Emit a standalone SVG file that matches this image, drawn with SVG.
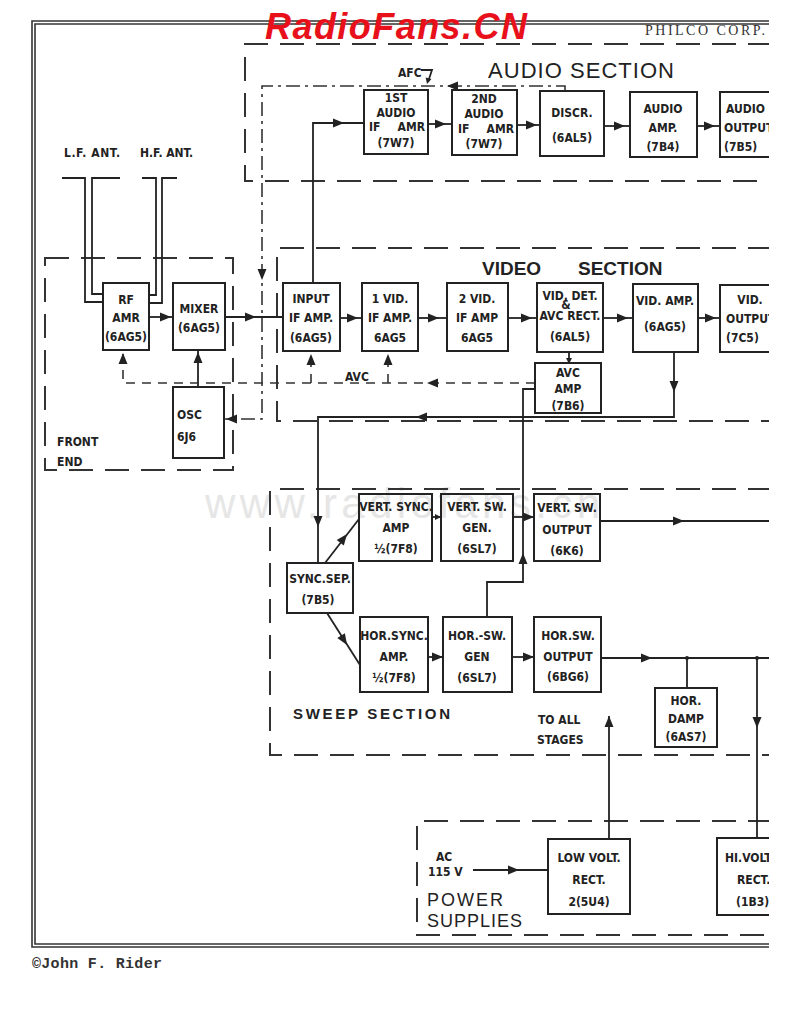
<svg xmlns="http://www.w3.org/2000/svg" xmlns:xlink="http://www.w3.org/1999/xlink" width="800" height="1036" viewBox="0 0 800 1036">
<style>
.box{fill:none;stroke:#222;stroke-width:2}
.ln{fill:none;stroke:#222;stroke-width:1.8}
.sec{fill:none;stroke:#333;stroke-width:2;stroke-dasharray:24 12}
.avc{fill:none;stroke:#333;stroke-width:1.6;stroke-dasharray:9 7}
.dd{fill:none;stroke:#333;stroke-width:1.6;stroke-dasharray:14 5 3 5}
.frame{fill:none;stroke:#333;stroke-width:1.6}
.t{font-family:"DejaVu Sans Condensed","Liberation Sans Narrow","Liberation Sans",sans-serif;font-weight:bold;font-size:12px;fill:#222;text-anchor:middle}
.st{text-anchor:start}
.en{text-anchor:end}
.h{font-family:"Liberation Sans","DejaVu Sans",sans-serif;fill:#222}
</style>
<defs>
<path id="ah" d="M0,0 L-11,-4.5 L-11,4.5 Z" fill="#222"/>
<path id="sah" d="M0,0 L-6,-3 L-6,3 Z" fill="#222"/>
<clipPath id="cl"><rect x="0" y="0" width="769" height="1036"/></clipPath>
</defs>
<rect x="0" y="0" width="800" height="1036" fill="#fff"/>
<text x="205" y="518" font-family="Liberation Sans, sans-serif" font-size="42" fill="#e6e6e6" textLength="395">www.radiofans.cn</text>

<g clip-path="url(#cl)">
<!-- frame -->
<g id="frame">
<path class="frame" d="M772,21 H32 V947 H772"/>
<path class="frame" d="M772,24 H35 V944 H772"/>
</g>

<!-- section boxes -->
<g id="sections">
<path class="sec" d="M772,44 H245 V181 H772"/>
<path class="sec" d="M772,248 H277 V421 H772"/>
<rect class="sec" x="45" y="258" width="188" height="212"/>
<path class="sec" d="M772,489 H270 V755 H772"/>
<path class="sec" d="M772,821 H417 V935 H772"/>
</g>

<!-- connectors -->
<g id="connectors">
<path class="ln" d="M62,178 H85 V302 H103 M120,178 H92 V294 H103"/>
<path class="ln" d="M142,178 H156 V295 H149 M177,178 H162 V303 H149"/>
<path class="ln" d="M149,317 H173"/><use xlink:href="#ah" transform="translate(171,317)"/>
<path class="ln" d="M225,317 H283"/><use xlink:href="#ah" transform="translate(256,317)"/>
<path class="ln" d="M198,387 V350"/><use xlink:href="#ah" transform="translate(198,352) rotate(270)"/>
<path class="avc" d="M535,383 H123 V351 M311,383 V352 M388,383 V352"/>
<use xlink:href="#ah" transform="translate(123,353) rotate(270)"/>
<use xlink:href="#ah" transform="translate(311,354) rotate(270)"/>
<use xlink:href="#ah" transform="translate(388,354) rotate(270)"/>
<use xlink:href="#ah" transform="translate(427,383) rotate(180)"/>
<path class="dd" d="M565,91 V86 H262 V419 H225"/>
<use xlink:href="#ah" transform="translate(447,86) rotate(180)"/>
<use xlink:href="#ah" transform="translate(262,280) rotate(90)"/>
<use xlink:href="#ah" transform="translate(226,419) rotate(180)"/>
<path class="ln" d="M421,70 H432 L428,82" stroke-width="1.4"/>
<use xlink:href="#sah" transform="translate(427,84) rotate(105)"/>
<path class="ln" d="M313,283 V123 H364"/><use xlink:href="#ah" transform="translate(344,123)"/>
<path class="ln" d="M428,124 H452"/><use xlink:href="#ah" transform="translate(446,124)"/>
<path class="ln" d="M517,125 H540"/><use xlink:href="#ah" transform="translate(537,125)"/>
<path class="ln" d="M604,126 H630"/><use xlink:href="#ah" transform="translate(625,126)"/>
<path class="ln" d="M697,126 H720"/><use xlink:href="#ah" transform="translate(715,126)"/>
<path class="ln" d="M340,318 H362"/><use xlink:href="#ah" transform="translate(358,318)"/>
<path class="ln" d="M418,318 H447"/><use xlink:href="#ah" transform="translate(439,318)"/>
<path class="ln" d="M508,318 H537"/><use xlink:href="#ah" transform="translate(532,318)"/>
<path class="ln" d="M603,318 H633"/><use xlink:href="#ah" transform="translate(628,318)"/>
<path class="ln" d="M698,318 H720"/><use xlink:href="#ah" transform="translate(716,318)"/>
<path class="ln" d="M569,352 V363" stroke-width="1.4"/><use xlink:href="#sah" transform="translate(569,364) rotate(90)"/>
<path class="ln" d="M674,352 V417 H318 V563"/>
<use xlink:href="#ah" transform="translate(674,392) rotate(90)"/>
<use xlink:href="#ah" transform="translate(416,417) rotate(180)"/>
<use xlink:href="#ah" transform="translate(318,527) rotate(90)"/>
<path class="ln" d="M487,617 V582 H523 V389 H535"/>
<use xlink:href="#ah" transform="translate(523,553) rotate(270)"/>
<path class="ln" d="M325,563 L359,519"/><use xlink:href="#ah" transform="translate(347,534) rotate(-52.3)"/>
<path class="ln" d="M327,613 L360,665"/><use xlink:href="#ah" transform="translate(347,645) rotate(57.6)"/>
<path class="ln" d="M432,517 H441"/><use xlink:href="#sah" transform="translate(441,517)"/>
<path class="ln" d="M513,517 H534"/><use xlink:href="#ah" transform="translate(534,517)"/>
<path class="ln" d="M600,521 H772"/><use xlink:href="#ah" transform="translate(684,521)"/>
<path class="ln" d="M428,657 H443"/><use xlink:href="#ah" transform="translate(443,657)"/>
<path class="ln" d="M512,657 H534"/><use xlink:href="#ah" transform="translate(534,657)"/>
<path class="ln" d="M601,658 H772"/><use xlink:href="#ah" transform="translate(652,658)"/>
<circle cx="687" cy="658" r="2" fill="#222"/><circle cx="757" cy="658" r="2" fill="#222"/>
<path class="ln" d="M687,658 V688"/>
<path class="ln" d="M757,658 V838"/><use xlink:href="#ah" transform="translate(757,728) rotate(90)"/>
<path class="ln" d="M609,839 V716"/><use xlink:href="#ah" transform="translate(609,716) rotate(270)"/>
<path class="ln" d="M473,870 H548"/><use xlink:href="#ah" transform="translate(519,870)"/>
</g>

<!-- front end -->
<g id="rf-amp"><rect class="box" x="103" y="283" width="46" height="67"/>
<text class="t" font-size="14" x="126" y="304">RF</text><text class="t" font-size="13" x="126" y="322">AMR</text><text class="t" x="126" y="341">(6AG5)</text></g>
<g id="mixer"><rect class="box" x="173" y="283" width="52" height="67"/>
<text class="t" x="199" y="313">MIXER</text><text class="t" x="199" y="332">(6AG5)</text></g>
<g id="osc"><rect class="box" x="173" y="387" width="51" height="71"/>
<text class="t st" font-size="15" x="177" y="419">OSC</text><text class="t st" font-size="15" x="177" y="441">6J6</text></g>

<!-- audio -->
<g id="audio-if1"><rect class="box" x="364" y="90" width="64" height="64"/>
<text class="t" font-size="8" x="396" y="102">1ST</text><text class="t" font-size="10" x="396" y="117">AUDIO</text>
<text class="t st" font-size="9" x="369" y="131">IF</text><text class="t en" font-size="9" x="425" y="131">AMR</text>
<text class="t" font-size="11" x="396" y="147">(7W7)</text></g>
<g id="audio-if2"><rect class="box" x="452" y="90" width="65" height="65"/>
<text class="t" font-size="8" x="484" y="103">2ND</text><text class="t" font-size="10" x="484" y="118">AUDIO</text>
<text class="t st" font-size="9" x="458" y="133">IF</text><text class="t en" font-size="9" x="514" y="133">AMR</text>
<text class="t" font-size="11" x="484" y="148">(7W7)</text></g>
<g id="discr"><rect class="box" x="540" y="91" width="64" height="65"/>
<text class="t" font-size="14" x="572" y="117">DISCR.</text><text class="t" font-size="15" x="572" y="142">(6AL5)</text></g>
<g id="audio-amp"><rect class="box" x="630" y="92" width="67" height="65"/>
<text class="t" font-size="14" x="663" y="113">AUDIO</text><text class="t" font-size="14" x="663" y="132">AMP.</text><text class="t" font-size="15" x="663" y="151">(7B4)</text></g>
<g id="audio-output"><rect class="box" x="720" y="92" width="70" height="65"/>
<text class="t st" font-size="14" x="726" y="113">AUDIO</text><text class="t st" font-size="14" x="724" y="132">OUTPUT</text><text class="t st" font-size="15" x="724" y="151">(7B5)</text></g>

<!-- video -->
<g id="input-if"><rect class="box" x="283" y="283" width="57" height="68"/>
<text class="t" font-size="13" x="311" y="303">INPUT</text><text class="t" font-size="13" x="311" y="322">IF AMP.</text><text class="t" font-size="13" x="311" y="342">(6AG5)</text></g>
<g id="vid-if1"><rect class="box" x="362" y="283" width="56" height="68"/>
<text class="t" font-size="14" x="390" y="303">1 VID.</text><text class="t" font-size="14" x="390" y="322">IF AMP.</text><text class="t" font-size="14" x="390" y="342">6AG5</text></g>
<g id="vid-if2"><rect class="box" x="447" y="283" width="61" height="68"/>
<text class="t" font-size="14" x="477" y="303">2 VID.</text><text class="t" font-size="14" x="477" y="322">IF AMP</text><text class="t" font-size="14" x="477" y="342">6AG5</text></g>
<g id="vid-det"><rect class="box" x="537" y="283" width="66" height="69"/>
<text class="t" font-size="11" x="570" y="300">VID. DET.</text><text class="t" font-size="8" x="566" y="309">&amp;</text>
<text class="t" font-size="11" x="570" y="320">AVC RECT.</text><text class="t" font-size="14" x="570" y="341">(6AL5)</text></g>
<g id="vid-amp"><rect class="box" x="633" y="284" width="65" height="68"/>
<text class="t" font-size="11" x="665" y="305">VID. AMP.</text><text class="t" font-size="15" x="665" y="331">(6AG5)</text></g>
<g id="vid-output"><rect class="box" x="720" y="285" width="70" height="67"/>
<text class="t" font-size="14" x="750" y="304">VID.</text><text class="t st" font-size="14" x="726" y="323">OUTPUT</text><text class="t st" font-size="14" x="726" y="342">(7C5)</text></g>
<g id="avc-amp"><rect class="box" x="535" y="363" width="66" height="50"/>
<text class="t" font-size="13" x="568" y="377">AVC</text><text class="t" font-size="13" x="568" y="393">AMP</text><text class="t" font-size="13" x="568" y="410">(7B6)</text></g>

<!-- sweep -->
<g id="sync-sep"><rect class="box" x="287" y="563" width="66" height="50"/>
<text class="t" font-size="12" x="320" y="583">SYNC.SEP.</text><text class="t" font-size="14" x="318" y="604">(7B5)</text></g>
<g id="vert-sync"><rect class="box" x="359" y="494" width="73" height="67"/>
<text class="t" font-size="11" x="396" y="511">VERT. SYNC.</text><text class="t" font-size="13" x="396" y="532">AMP</text><text class="t" font-size="13" x="396" y="553">½(7F8)</text></g>
<g id="vert-sw-gen"><rect class="box" x="441" y="494" width="72" height="67"/>
<text class="t" font-size="12" x="477" y="511">VERT. SW.</text><text class="t" font-size="13" x="477" y="532">GEN.</text><text class="t" font-size="13" x="477" y="553">(6SL7)</text></g>
<g id="vert-sw-out"><rect class="box" x="534" y="494" width="66" height="67"/>
<text class="t" font-size="12" x="567" y="512">VERT. SW.</text><text class="t" font-size="13" x="567" y="534">OUTPUT</text><text class="t" font-size="13" x="567" y="555">(6K6)</text></g>
<g id="hor-sync"><rect class="box" x="360" y="617" width="68" height="75"/>
<text class="t" font-size="11" x="394" y="640">HOR.SYNC.</text><text class="t" font-size="13" x="394" y="661">AMP.</text><text class="t" font-size="13" x="394" y="682">½(7F8)</text></g>
<g id="hor-sw-gen"><rect class="box" x="443" y="617" width="69" height="75"/>
<text class="t" font-size="13" x="477" y="640">HOR.-SW.</text><text class="t" font-size="13" x="477" y="661">GEN</text><text class="t" font-size="13" x="477" y="682">(6SL7)</text></g>
<g id="hor-sw-out"><rect class="box" x="534" y="617" width="67" height="75"/>
<text class="t" font-size="12" x="568" y="640">HOR.SW.</text><text class="t" font-size="13" x="568" y="661">OUTPUT</text><text class="t" font-size="12" x="568" y="681">(6BG6)</text></g>
<g id="hor-damp"><rect class="box" x="655" y="688" width="62" height="59"/>
<text class="t" font-size="13" x="686" y="705">HOR.</text><text class="t" font-size="13" x="686" y="723">DAMP</text><text class="t" font-size="12" x="686" y="741">(6AS7)</text></g>

<!-- power -->
<g id="low-volt"><rect class="box" x="548" y="839" width="82" height="75"/>
<text class="t" font-size="13" x="589" y="862">LOW VOLT.</text><text class="t" font-size="14" x="589" y="884">RECT.</text><text class="t" font-size="14" x="589" y="906">2(5U4)</text></g>
<g id="hi-volt"><rect class="box" x="717" y="838" width="80" height="77"/>
<text class="t st" font-size="13" x="725" y="862">HI.VOLT.</text><text class="t st" font-size="14" x="737" y="884">RECT.</text><text class="t st" font-size="14" x="736" y="906">(1B3)</text></g>

<!-- labels -->
<g id="labels">
<text class="t st" font-size="12" x="64" y="157" textLength="56">L.F. ANT.</text>
<text class="t st" font-size="12" x="140" y="157" textLength="53">H.F. ANT.</text>
<text class="t st" font-size="10" x="398" y="77">AFC</text>
<text class="h" font-size="22" x="488" y="78" textLength="188" letter-spacing="2">AUDIO SECTION</text>
<text class="h" font-size="19" font-weight="bold" y="275"><tspan x="482">VIDEO</tspan><tspan x="578">SECTION</tspan></text>
<text class="t st" font-size="13" x="345" y="381">AVC</text>
<text class="t st" font-size="15" x="57" y="446">FRONT</text>
<text class="t st" font-size="15" x="57" y="466">END</text>
<text class="h" font-size="15" font-weight="bold" x="293" y="719" textLength="157">SWEEP SECTION</text>
<text class="t st" font-size="14" x="538" y="724">TO ALL</text>
<text class="t st" font-size="14" x="537" y="744">STAGES</text>
<text class="t st" font-size="11" x="436" y="861">AC</text>
<text class="t st" font-size="11" x="428" y="876">115 V</text>
<text class="h" font-size="18" x="427" y="906" textLength="76">POWER</text>
<text class="h" font-size="18" x="427" y="927" textLength="95">SUPPLIES</text>
</g>
</g>

<text font-family="Liberation Serif, serif" font-size="14" fill="#333" x="645" y="35" textLength="120">PHILCO CORP.</text>
<text font-family="Liberation Mono, monospace" font-size="15" font-weight="bold" fill="#333" x="32" y="968" textLength="130">©John F. Rider</text>
<text font-family="Liberation Sans, sans-serif" font-size="36" font-weight="bold" font-style="italic" fill="#e8101a" x="265" y="39" textLength="262">RadioFans.CN</text>
</svg>
